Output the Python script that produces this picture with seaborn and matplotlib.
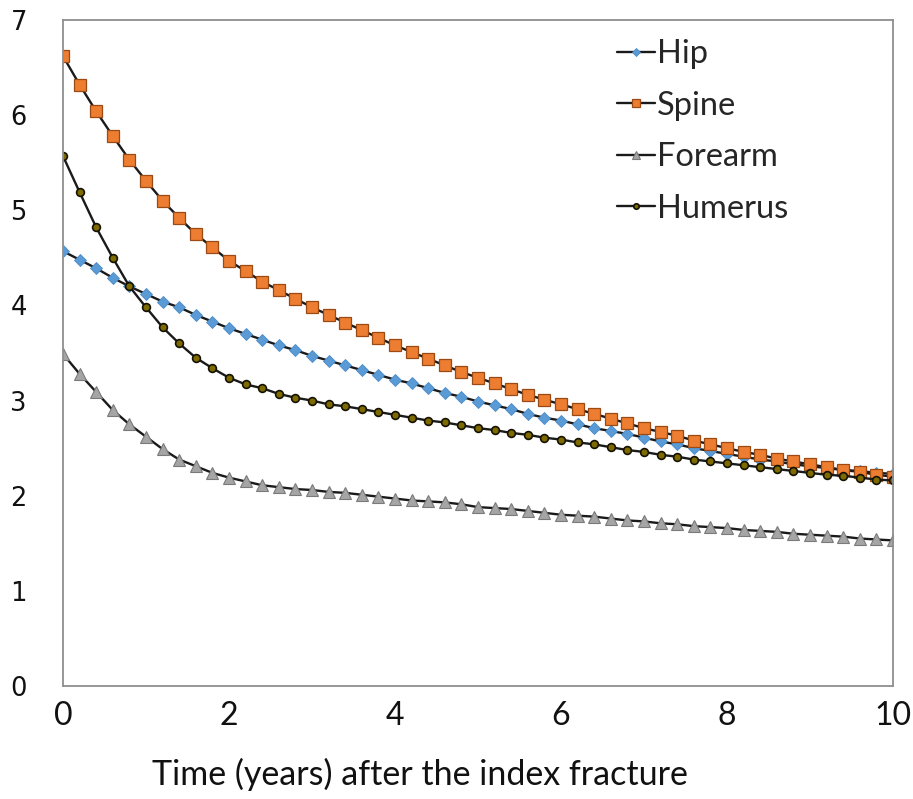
import numpy as np
import pandas as pd
import matplotlib
matplotlib.use("Agg")
import matplotlib.pyplot as plt
import seaborn as sns

years = np.round(np.arange(0, 10.01, 0.2), 1)

hip = [4.57, 4.48, 4.39, 4.29, 4.20, 4.12,
       4.04, 3.98, 3.90, 3.83, 3.76,
       3.70, 3.64, 3.58, 3.53, 3.47,
       3.42, 3.37, 3.32, 3.27, 3.22,
       3.18, 3.13, 3.08, 3.04, 2.99,
       2.95, 2.91, 2.86, 2.82, 2.79,
       2.75, 2.71, 2.68, 2.65, 2.61,
       2.57, 2.54, 2.50, 2.47, 2.44,
       2.41, 2.38, 2.36, 2.33, 2.31,
       2.29, 2.27, 2.26, 2.24, 2.23]

spine = [6.62, 6.32, 6.04, 5.78, 5.53, 5.31,
         5.10, 4.92, 4.75, 4.61, 4.47,
         4.36, 4.25, 4.16, 4.07, 3.98,
         3.90, 3.82, 3.74, 3.66, 3.58,
         3.51, 3.44, 3.37, 3.30, 3.24,
         3.18, 3.12, 3.06, 3.01, 2.96,
         2.91, 2.86, 2.81, 2.76, 2.71,
         2.67, 2.63, 2.58, 2.54, 2.50,
         2.46, 2.43, 2.39, 2.36, 2.33,
         2.30, 2.27, 2.25, 2.22, 2.20]

forearm = [3.49, 3.28, 3.09, 2.90, 2.75, 2.62,
           2.49, 2.38, 2.31, 2.24, 2.19,
           2.15, 2.11, 2.09, 2.07, 2.06,
           2.04, 2.03, 2.01, 1.99, 1.97,
           1.95, 1.94, 1.93, 1.91, 1.88,
           1.87, 1.86, 1.84, 1.82, 1.80,
           1.79, 1.78, 1.76, 1.74, 1.73,
           1.71, 1.70, 1.68, 1.67, 1.66,
           1.64, 1.63, 1.62, 1.60, 1.59,
           1.58, 1.57, 1.55, 1.54, 1.53]

humerus = [5.57, 5.19, 4.82, 4.50, 4.20, 3.98,
           3.77, 3.60, 3.45, 3.34, 3.24,
           3.17, 3.13, 3.07, 3.03, 3.00,
           2.96, 2.94, 2.91, 2.88, 2.85,
           2.82, 2.79, 2.77, 2.74, 2.71,
           2.69, 2.66, 2.64, 2.61, 2.59,
           2.56, 2.54, 2.51, 2.48, 2.46,
           2.43, 2.41, 2.38, 2.36, 2.34,
           2.32, 2.30, 2.28, 2.26, 2.24,
           2.22, 2.21, 2.19, 2.17, 2.16]

series_names = ["Hip", "Spine", "Forearm", "Humerus"]
x_ticks = [0, 2, 4, 6, 8, 10]
y_ticks = [0, 1, 2, 3, 4, 5, 6, 7]

df = pd.DataFrame({
    "years": np.tile(years, 4),
    "risk": hip + spine + forearm + humerus,
    "site": np.repeat(series_names, len(years)),
})

styles = {
    "Hip":     dict(marker="D", markersize=6.2, markerfacecolor="#5B9BD5", markeredgecolor="#4A8AC8", markeredgewidth=0.6),
    "Spine":   dict(marker="s", markersize=8.5, markerfacecolor="#ED7D31", markeredgecolor="#9C4A14", markeredgewidth=0.9),
    "Forearm": dict(marker="^", markersize=9.0, markerfacecolor="#A5A5A5", markeredgecolor="#7A7A7A", markeredgewidth=0.8),
    "Humerus": dict(marker="o", markersize=5.6, markerfacecolor="#7F6A00", markeredgecolor="#141200", markeredgewidth=1.2),
}

sns.set_style("white")
plt.rcParams["font.family"] = ["DejaVu Sans"]

fig = plt.figure(figsize=(9.13, 7.99), dpi=100)
ax = fig.add_axes([63 / 913, 1 - 686 / 799, (893 - 63) / 913, (686 - 20) / 799])

for name in series_names:
    sub = df[df["site"] == name]
    sns.lineplot(data=sub, x="years", y="risk", ax=ax, color="#1a1a1a",
                 linewidth=1.7, label=name, legend=False, **styles[name])

ax.set_xlim(0, 10)
ax.set_ylim(0, 7)
ax.set_xticks(x_ticks)
ax.set_yticks(y_ticks)
ax.set_xticklabels([str(t) for t in x_ticks], fontfamily="Lato", fontsize=23)
ax.set_yticklabels([str(t) for t in y_ticks], fontfamily="DejaVu Sans", fontsize=18.5)
ax.tick_params(axis="x", direction="in", length=7, width=1.0, color="#8a8a8a", pad=11, colors="#111111")
ax.tick_params(axis="y", direction="in", length=7, width=1.0, color="#8a8a8a", pad=26, colors="#111111")
ax.set_xlabel("")
ax.set_ylabel("")

for side in ["left", "right", "top", "bottom"]:
    ax.spines[side].set_visible(True)
    ax.spines[side].set_color("#8f8f8f")
    ax.spines[side].set_linewidth(1.3)

leg = ax.legend(loc="upper left", bbox_to_anchor=(617 / 913, 1 - 39 / 799),
                bbox_transform=fig.transFigure, frameon=False,
                prop={"family": "Lato", "size": 23.5},
                handlelength=1.17, handletextpad=0.06, labelspacing=0.66,
                borderaxespad=0, borderpad=0, markerscale=0.7)

fig.text(420 / 913, 1 - 774 / 799, "Time (years) after the index fracture",
         ha="center", va="center", fontfamily="Lato", fontsize=24.5, color="#111111")

fig.savefig("out.png", dpi=100)
